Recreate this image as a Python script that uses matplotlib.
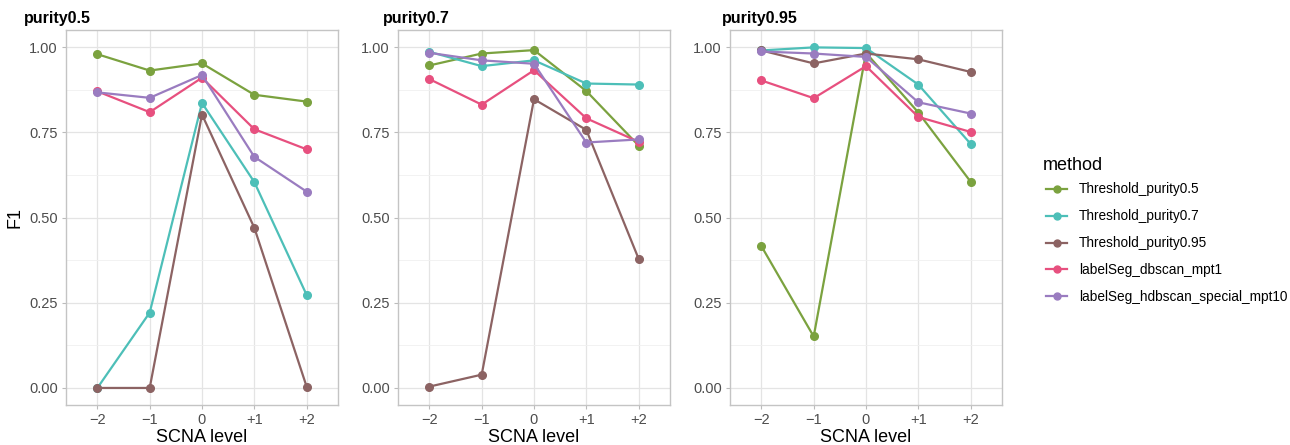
import matplotlib.pyplot as plt
from matplotlib.lines import Line2D

plt.rcParams['font.family'] = ['Liberation Sans', 'DejaVu Sans']

levels = [-2, -1, 0, 1, 2]
level_labels = ["\u22122", "\u22121", "0", "+1", "+2"]
panels = ["purity0.5", "purity0.7", "purity0.95"]
methods = ["Threshold_purity0.5", "Threshold_purity0.7", "Threshold_purity0.95",
           "labelSeg_dbscan_mpt1", "labelSeg_hdbscan_special_mpt10"]
colors = ["#7BA23F", "#4DBFB8", "#8C6363", "#E7507F", "#9A7CC0"]

# F1 per panel, one list per method (order as in methods)
f1_p05 = [
    [0.979, 0.931, 0.952, 0.860, 0.840],
    [0.000, 0.221, 0.836, 0.604, 0.273],
    [0.000, 0.000, 0.802, 0.470, 0.004],
    [0.870, 0.809, 0.910, 0.759, 0.700],
    [0.867, 0.851, 0.918, 0.678, 0.576],
]
f1_p07 = [
    [0.946, 0.981, 0.991, 0.871, 0.711],
    [0.986, 0.944, 0.961, 0.893, 0.890],
    [0.004, 0.039, 0.847, 0.757, 0.379],
    [0.906, 0.831, 0.932, 0.791, 0.722],
    [0.983, 0.961, 0.951, 0.720, 0.729],
]
f1_p095 = [
    [0.416, 0.151, 0.983, 0.808, 0.605],
    [0.990, 0.999, 0.997, 0.890, 0.716],
    [0.990, 0.952, 0.981, 0.964, 0.927],
    [0.902, 0.850, 0.944, 0.795, 0.751],
    [0.987, 0.981, 0.971, 0.838, 0.805],
]
all_data = [f1_p05, f1_p07, f1_p095]

fig = plt.figure(figsize=(12.9, 4.45), dpi=100)
lefts = [66, 398, 730]
title_x = [24, 383, 722]
W, H = 1290, 445

for i, (name, data) in enumerate(zip(panels, all_data)):
    ax = fig.add_axes([lefts[i] / W, 40 / H, 272 / W, 375 / H])
    ax.set_xlim(-2.6, 2.6)
    ax.set_ylim(-0.05, 1.05)
    ax.set_yticks([0, 0.25, 0.5, 0.75, 1.0])
    ax.set_yticklabels(["0.00", "0.25", "0.50", "0.75", "1.00"])
    ax.set_yticks([0.125, 0.375, 0.625, 0.875], minor=True)
    ax.set_xticks(levels)
    ax.set_xticklabels(level_labels)
    ax.grid(True, which='major', color='#E4E4E4', lw=0.9)
    ax.grid(True, which='minor', axis='y', color='#F0F0F0', lw=0.6)
    ax.set_axisbelow(True)
    ax.tick_params(which='major', length=3, color='#BBBBBB', labelsize=10.5,
                   labelcolor='#4D4D4D', pad=3)
    ax.tick_params(which='minor', length=0)
    for s in ax.spines.values():
        s.set_color('#C4C4C4')
        s.set_linewidth(1.0)
    for vals, c in zip(data, colors):
        ax.plot(levels, vals, color=c, lw=1.6, marker='o', ms=5.5, zorder=3)
    ax.set_xlabel("SCNA level", fontsize=13, labelpad=1)
    if i == 0:
        ax.set_ylabel("F1", fontsize=13)
    fig.text(title_x[i] / W, 1 - 18 / H, name, fontsize=11.5, fontweight='bold',
             ha='left', va='center')

# legend title drawn separately so the gap to the keys matches
fig.text(1043 / W, 1 - 165 / H, "method", fontsize=13, ha='left', va='center')
handles = [Line2D([0], [0], color=c, lw=1.6, marker='o', ms=5) for c in colors]
fig.legend(handles, methods, loc='upper left',
           bbox_to_anchor=(1041 / W, 1 - 177 / H), frameon=False,
           fontsize=9.8, handlelength=1.5, handletextpad=0.9,
           labelspacing=0.95, borderaxespad=0)

fig.savefig("out.png", dpi=100)
